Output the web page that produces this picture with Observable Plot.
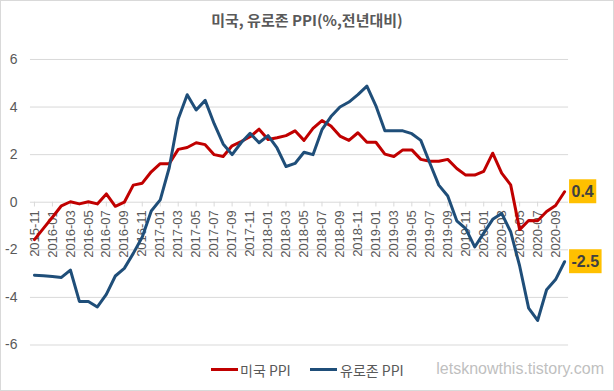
<!DOCTYPE html>
<html><head><meta charset="utf-8">
<script src="https://cdn.jsdelivr.net/npm/d3@7"></script>
<script src="https://cdn.jsdelivr.net/npm/@observablehq/plot@0.6"></script>
<style>
body{margin:0;background:#fff;}
#wrap{position:relative;width:614px;height:391px;box-sizing:border-box;border:1px solid #D9D9D9;overflow:hidden;background:#fff;}
#title{position:absolute;left:-1px;top:8px;width:614px;line-height:20px;text-align:center;font:bold 15px "Noto Sans CJK KR",sans-serif;color:#595959;}
#chart{position:absolute;left:-1px;top:35px;}
.leg{position:absolute;top:359px;height:20px;line-height:20px;font:14px "Noto Sans CJK KR",sans-serif;color:#595959;white-space:nowrap;}
.sw{position:absolute;height:3px;top:367px;}
#wm{position:absolute;right:9px;top:359px;line-height:20px;font:16px "Liberation Sans",Arial,sans-serif;color:#BFBFBF;}
</style></head>
<body>
<div id="wrap">
  <div id="title"></div>
  <div id="chart"></div>
  <div id="legend"></div>
  <div id="wm">letsknowthis.tistory.com</div>
</div>
<script>
const titleText = "미국, 유로존 PPI(%,전년대비)";
const months = ["2015-11","2015-12","2016-01","2016-02","2016-03","2016-04","2016-05","2016-06","2016-07","2016-08","2016-09","2016-10","2016-11","2016-12","2017-01","2017-02","2017-03","2017-04","2017-05","2017-06","2017-07","2017-08","2017-09","2017-10","2017-11","2017-12","2018-01","2018-02","2018-03","2018-04","2018-05","2018-06","2018-07","2018-08","2018-09","2018-10","2018-11","2018-12","2019-01","2019-02","2019-03","2019-04","2019-05","2019-06","2019-07","2019-08","2019-09","2019-10","2019-11","2019-12","2020-01","2020-02","2020-03","2020-04","2020-05","2020-06","2020-07","2020-08","2020-09","2020-10"];
const usPPI = [-1.57,-1.1,-0.63,-0.15,0.02,-0.07,0.02,-0.07,0.35,-0.17,0.0,0.72,0.8,1.28,1.62,1.62,2.22,2.3,2.5,2.42,2.0,1.92,2.37,2.55,2.75,3.07,2.64,2.71,2.8,3.0,2.6,3.1,3.43,3.2,2.78,2.6,2.92,2.52,2.52,2.02,1.92,2.2,2.2,1.8,1.72,1.72,1.8,1.42,1.14,1.14,1.3,2.06,1.22,0.73,-1.15,-0.77,-0.78,-0.39,-0.14,0.44];
const euPPI = [-3.07,-3.09,-3.12,-3.16,-2.85,-4.17,-4.17,-4.4,-3.87,-3.1,-2.78,-2.15,-1.46,-0.37,0.1,1.45,3.5,4.52,3.88,4.28,3.3,2.45,2.0,2.5,2.9,2.5,2.8,2.28,1.5,1.63,2.1,2.0,3.05,3.6,4.0,4.21,4.52,4.88,4.05,3.0,3.0,3.0,2.88,2.6,1.65,0.72,0.26,-0.78,-1.11,-1.88,-1.3,-0.72,-0.47,-1.24,-2.68,-4.45,-4.97,-3.68,-3.25,-2.5];
const seriesNames = ["미국 PPI", "유로존 PPI"];
const seriesColors = ["#C00000", "#1F4E79"];
const yTicks = [-6, -4, -2, 0, 2, 4, 6];
const endLabels = ["0.4", "-2.5"];

document.getElementById("title").textContent = titleText;

const data = months.map((m, i) => ({m, us: usPPI[i], eu: euPPI[i]}));
const xTicks = months.filter((m, i) => i % 2 === 0).map(m => ({m, v: 0}));

const chart = Plot.plot({
  width: 614, height: 320,
  marginTop: 23, marginBottom: 11, marginLeft: 30, marginRight: 45,
  style: {fontFamily: "'Liberation Sans', Arial, sans-serif", background: "transparent", overflow: "visible", color: "#595959"},
  x: {type: "point", domain: months, padding: 0, axis: null},
  y: {domain: [-6, 6], axis: null},
  marks: [
    Plot.ruleY(yTicks, {stroke: "#D9D9D9", strokeWidth: 1}),
    Plot.ruleX(xTicks, {x: "m", y1: "v", y2: d => d.v - 0.2, stroke: "#D9D9D9"}),
    Plot.text(yTicks, {y: d => d, text: d => String(d), frameAnchor: "left", textAnchor: "end", dx: -13, fontSize: 14, fill: "#595959"}),
    Plot.text(xTicks, {x: "m", y: "v", text: "m", rotate: -90, textAnchor: "end", dy: 8, fontSize: 13, fill: "#595959"}),
    Plot.line(data, {x: "m", y: "us", stroke: seriesColors[0], strokeWidth: 3, strokeLinejoin: "round"}),
    Plot.line(data, {x: "m", y: "eu", stroke: seriesColors[1], strokeWidth: 3, strokeLinejoin: "round"})
  ]
});
document.getElementById("chart").appendChild(chart);

// end-value boxes, positioned through the plot's own scales
const sx = chart.scale("x"), sy = chart.scale("y");
const svg = d3.select(chart);
const lastM = months[months.length - 1];
[usPPI[usPPI.length - 1], euPPI[euPPI.length - 1]].forEach((v, k) => {
  const x0 = sx.apply(lastM) + 5, yc = sy.apply(v);
  const g = svg.append("g");
  const rect = g.append("rect").attr("fill", "#FFC000");
  const t = g.append("text").attr("x", x0 + 2.5).attr("y", yc).attr("dy", "0.36em")
    .attr("text-anchor", "start")
    .attr("font-family", "'Liberation Sans', Arial, sans-serif").attr("font-weight", "bold")
    .attr("font-size", 16).attr("fill", "#404040").text(endLabels[k]);
  const w = t.node().getComputedTextLength();
  rect.attr("x", x0).attr("y", yc - 12).attr("width", w + 5).attr("height", 24);
});

// legend
const legend = document.getElementById("legend");
const legPos = [[211, 240], [310, 340]];
seriesNames.forEach((name, k) => {
  const sw = document.createElement("div");
  sw.className = "sw";
  sw.style.left = (legPos[k][0] - 1) + "px";
  sw.style.width = "27px";
  sw.style.background = seriesColors[k];
  legend.appendChild(sw);
  const t = document.createElement("div");
  t.className = "leg";
  t.style.left = (legPos[k][1] - 1) + "px";
  t.textContent = name;
  legend.appendChild(t);
});
</script>
</body></html>
